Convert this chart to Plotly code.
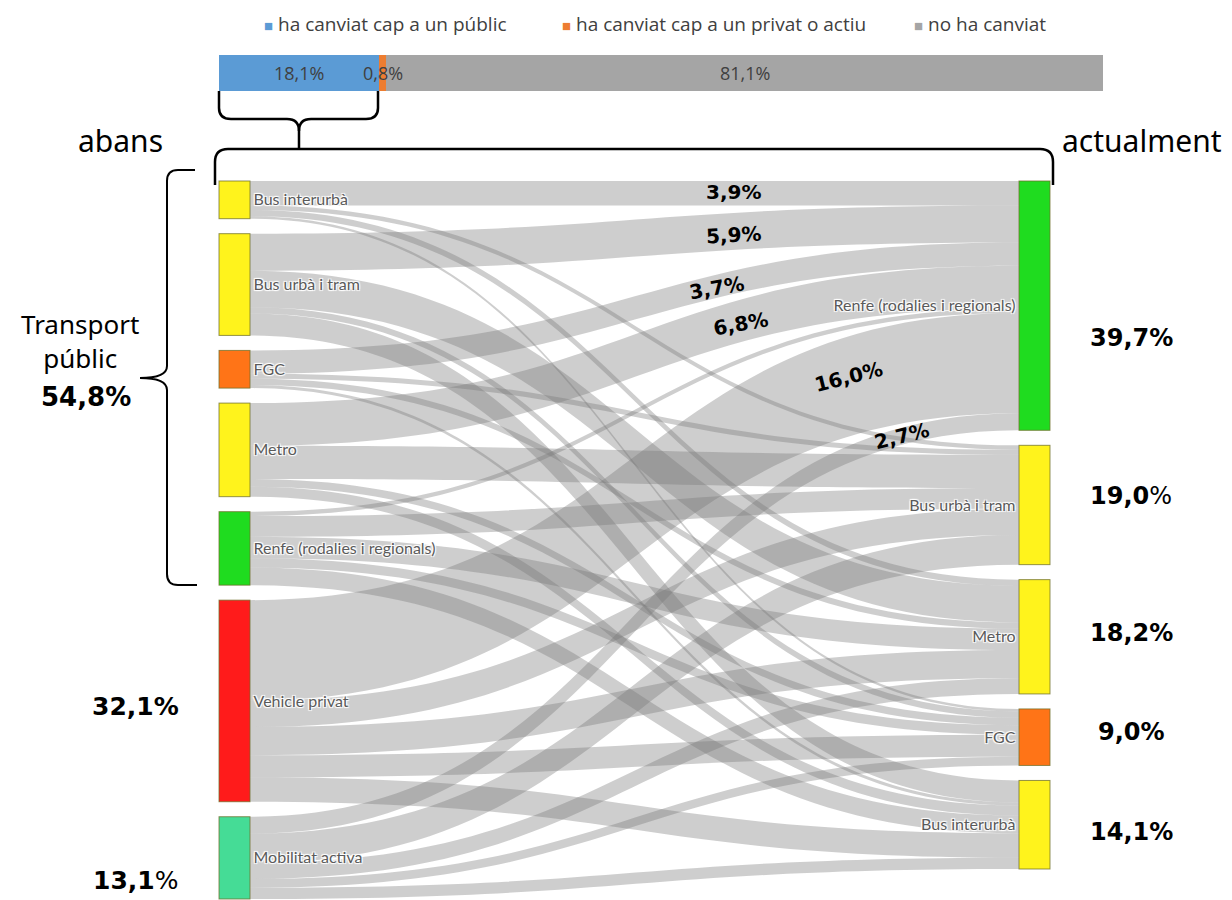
import plotly.graph_objects as go

# ---------------------------------------------------------------- data
# Modes used before (left column) and now (right column)
modes_before = ["Bus interurbà", "Bus urbà i tram", "FGC", "Metro",
                "Renfe (rodalies i regionals)", "Vehicle privat", "Mobilitat activa"]
modes_now = ["Renfe (rodalies i regionals)", "Bus urbà i tram", "Metro", "FGC",
             "Bus interurbà"]

# Flows (% of people who changed mode), one list per destination,
# entries follow the order of modes_before
to_renfe = [3.9, 5.9, 3.7, 6.8, 0.7, 16.0, 2.7]
to_bus_urba = [0.7, 0.0, 0.8, 5.3, 3.3, 4.2, 4.7]
to_metro = [1.0, 5.8, 1.0, 0.0, 3.4, 4.5, 2.5]
to_fgc = [0.4, 1.0, 0.0, 1.2, 1.5, 3.5, 1.4]
to_bus_interurba = [0.0, 3.5, 0.5, 1.6, 2.8, 3.9, 1.8]

# Share of people who changed mode (top bar)
change_labels = ["ha canviat cap a un públic", "ha canviat cap a un privat o actiu",
                 "no ha canviat"]
change_values = [18.1, 0.8, 81.1]

# ---------------------------------------------------------------- styling
W, H = 1232, 900
colors_before = ["#FFF31C", "#FFF31C", "#FF7417", "#FFF31C", "#1FDC1F", "#FF1B1B", "#45DC96"]
colors_now = ["#1FDC1F", "#FFF31C", "#FFF31C", "#FF7417", "#FFF31C"]
change_colors = ["#5B9BD5", "#ED7D31", "#A5A5A5"]
LINK_COLOR = "rgba(120,120,120,0.36)"
TXT = "#404040"
BIG = "Noto Sans, Open Sans, sans-serif"
PCT = "DejaVu Sans, Verdana, sans-serif"
SMALL = "Lato, Open Sans, sans-serif"
LEG = "Open Sans, Noto Sans, sans-serif"


def fmt(v):
    return f"{v:.1f}".replace(".", ",") + "%"


def px(x):
    return x / W


def py(y):
    return 1 - y / H


flows = [to_renfe, to_bus_urba, to_metro, to_fgc, to_bus_interurba]
n_b, n_a = len(modes_before), len(modes_now)
src, tgt, val = [], [], []
for j, col in enumerate(flows):
    for i, v in enumerate(col):
        if v > 0:
            src.append(i)
            tgt.append(n_b + j)
            val.append(v)

tot_before = [round(sum(col[i] for col in flows), 1) for i in range(n_b)]
tot_now = [round(sum(col), 1) for col in flows]

# ---------------------------------------------------------------- sankey geometry
node_l, node_r = 219, 1050          # outer pixel edges of the node columns
sk_top, sk_bot = 181, 899
pad, thick = 15, 31
dom_w, dom_h = node_r - node_l, sk_bot - sk_top
ky = min((dom_h - (n_b - 1) * pad) / sum(tot_before),
         (dom_h - (n_a - 1) * pad) / sum(tot_now))


def centers(totals):
    out, y = [], 0.0
    for v in totals:
        h = v * ky
        out.append((y + h / 2) / dom_h)
        y += h + pad
    return out


node_x = [thick / 2 / dom_w] * n_b + [1 - thick / 2 / dom_w] * n_a
node_y = centers(tot_before) + centers(tot_now)

fig = go.Figure()

fig.add_trace(go.Sankey(
    arrangement="fixed",
    domain=dict(x=[px(node_l), px(node_r)], y=[py(sk_bot), py(sk_top)]),
    node=dict(label=modes_before + modes_now,
              color=colors_before + colors_now,
              x=node_x, y=node_y,
              pad=pad, thickness=thick,
              line=dict(color="rgba(110,110,40,0.75)", width=1)),
    link=dict(source=src, target=tgt, value=val, color=LINK_COLOR),
    textfont=dict(family=SMALL, size=16, color="#5a5a5a"),
    hoverinfo="none",
))

# ---------------------------------------------------------------- top stacked bar
for lab, v, c in zip(change_labels, change_values, change_colors):
    fig.add_trace(go.Bar(
        y=[0], x=[v], orientation="h", name=lab, width=1,
        marker=dict(color=c, line=dict(width=0)),
        showlegend=False, hoverinfo="skip",
    ))

fig.update_layout(
    barmode="stack",
    width=W, height=H,
    margin=dict(l=0, r=0, t=0, b=0),
    paper_bgcolor="white", plot_bgcolor="white",
    xaxis=dict(domain=[px(219), px(1103)], range=[0, sum(change_values)],
               visible=False, fixedrange=True),
    yaxis=dict(domain=[py(91), py(55)], range=[-0.5, 0.5],
               visible=False, fixedrange=True),
)

ann = []

# value labels centred on each bar segment
start = 0.0
for v in change_values:
    ann.append(dict(x=start + v / 2, y=0, xref="x", yref="y", showarrow=False,
                    xanchor="center", yanchor="middle", text=fmt(v),
                    font=dict(family=LEG, size=18, color=TXT)))
    start += v

# ---------------------------------------------------------------- legend of the bar
leg_x = [262, 560, 912]
for x0, lab, c in zip(leg_x, change_labels, change_colors):
    ann.append(dict(x=px(x0), y=py(24), xref="paper", yref="paper",
                    xanchor="left", yanchor="middle", showarrow=False,
                    text=f"<span style='color:{c};font-size:15px'>■</span> {lab}",
                    font=dict(family=LEG, size=19, color=TXT)))

# ---------------------------------------------------------------- text labels


def label(x, y, text, size, angle=0, family=BIG, color="black", anchor="center"):
    ann.append(dict(x=px(x), y=py(y), xref="paper", yref="paper",
                    xanchor=anchor, yanchor="middle", showarrow=False,
                    text=text, textangle=angle,
                    font=dict(family=family, size=size, color=color)))


label(120, 140, "abans", 30)
label(1142, 140, "actualment", 30)
label(80, 341, "Transport<br>públic", 26)

public_total = round(sum(tot_before[:5]), 1)
label(86, 397, f"<b>{fmt(public_total)}</b>", 26, family=PCT)
label(135, 706, f"<b>{fmt(tot_before[5])}</b>", 25, family=PCT)
label(135, 880, f"<b>{fmt(tot_before[6])[:-1]}</b>%", 25, family=PCT)

# totals of the current modes
now_y = [338, 496, 633, 732, 832]
for v, yv in zip(tot_now, now_y):
    txt = f"<b>{fmt(v)}</b>" if v != 19.0 else f"<b>{fmt(v)[:-1]}</b>%"
    label(1131, yv, txt, 24, family=PCT)

# flows into Renfe
renfe_lab = [(733, 192, 0), (733, 235, -3), (716, 288, -10),
             (740, 324, -10), None, (848, 377, -14), (902, 436, -14)]
for v, pos in zip(to_renfe, renfe_lab):
    if pos:
        label(pos[0], pos[1], f"<b>{fmt(v)}</b>", 20, angle=pos[2], family=PCT)

fig.update_layout(annotations=ann)

# ---------------------------------------------------------------- brackets


def path(pts):
    s = ""
    for cmd, *xy in pts:
        coords = " ".join(f"{px(xy[k]):.5f},{py(xy[k + 1]):.5f}" for k in range(0, len(xy), 2))
        s += f"{cmd}{coords} "
    return s.strip()


line = dict(color="black", width=2.5)
shapes = [
    # brace under the "changed" part of the bar
    dict(type="path", xref="paper", yref="paper", line=line,
         path=path([("M", 219, 91), ("L", 219, 108), ("Q", 219, 119, 231, 119),
                    ("L", 287, 119), ("Q", 299, 119, 299, 131), ("L", 299, 149)])),
    dict(type="path", xref="paper", yref="paper", line=line,
         path=path([("M", 378, 91), ("L", 378, 108), ("Q", 378, 119, 366, 119),
                    ("L", 311, 119), ("Q", 299, 119, 299, 131)])),
    # bracket over the whole flow diagram
    dict(type="path", xref="paper", yref="paper", line=line,
         path=path([("M", 215, 185), ("L", 215, 162), ("Q", 215, 149, 228, 149),
                    ("L", 1040, 149), ("Q", 1053, 149, 1053, 162), ("L", 1053, 185)])),
    # brace grouping public transport modes
    dict(type="path", xref="paper", yref="paper", line=dict(color="black", width=2),
         path=path([("M", 195, 170), ("L", 178, 170), ("Q", 167, 170, 167, 181),
                    ("L", 167, 366), ("Q", 167, 378, 140, 378), ("Q", 167, 378, 167, 390),
                    ("L", 167, 574), ("Q", 167, 585, 178, 585), ("L", 197, 585)])),
]
fig.update_layout(shapes=shapes)

fig.write_html("out.html")
